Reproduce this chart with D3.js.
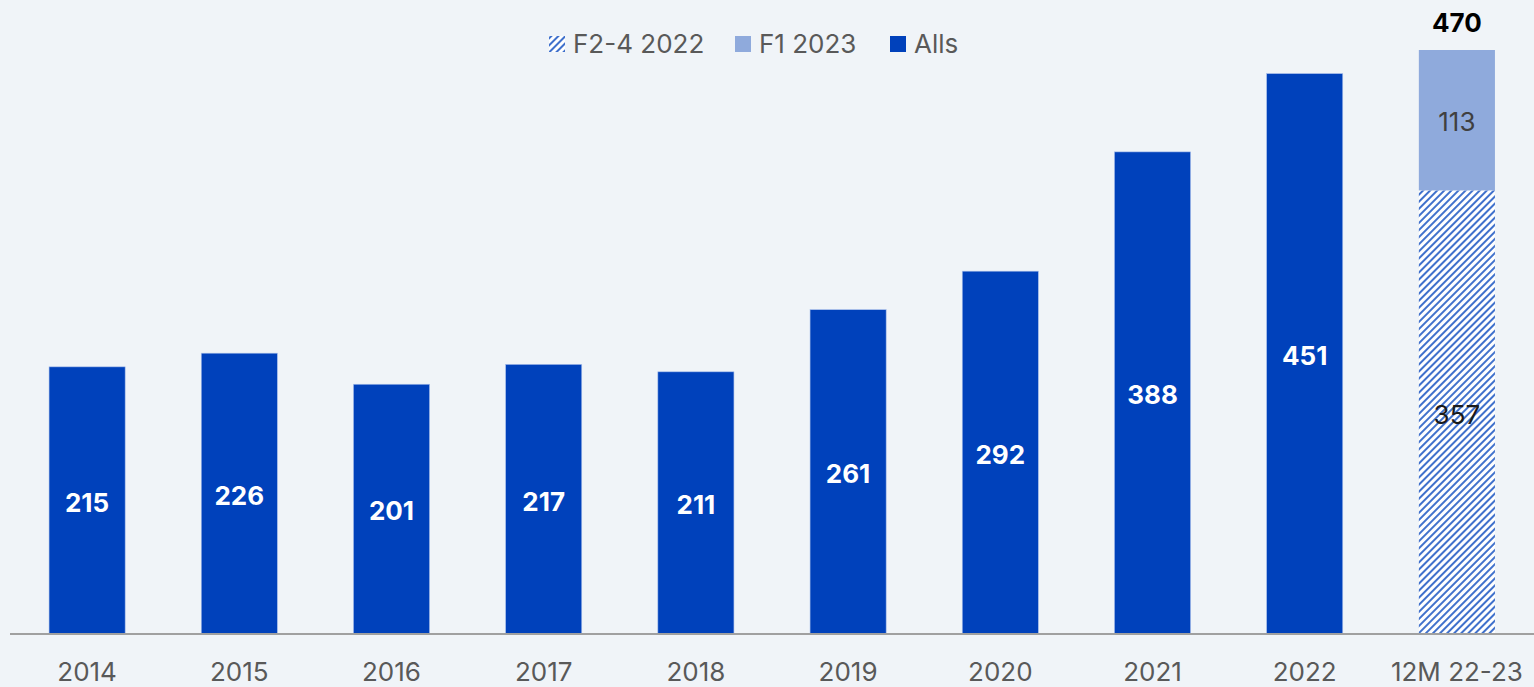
<!DOCTYPE html>
<html>
<head>
<meta charset="utf-8">
<script src="https://cdn.jsdelivr.net/npm/d3@7/dist/d3.min.js"></script>
<style>
  html, body { margin: 0; padding: 0; background: #f0f4f8; }
  svg { display: block; font-family: Inter, "Noto Sans", sans-serif; }
</style>
</head>
<body>
<svg id="chart"></svg>
<script>
// data
const categories = ["2014", "2015", "2016", "2017", "2018", "2019", "2020", "2021", "2022", "12M 22-23"];
const allsValues = [215, 226, 201, 217, 211, 261, 292, 388, 451, null];
const f24Values  = [null, null, null, null, null, null, null, null, null, 357];
const f1Values   = [null, null, null, null, null, null, null, null, null, 113];
const legendLabels = ["F2-4 2022", "F1 2023", "Alls"];

const width = 1534, height = 687;
const blue = "#0041bb", lightBlue = "#8faadc", grey = "#595959";

const svg = d3.select("#chart")
  .attr("width", width)
  .attr("height", height);

svg.append("rect")
  .attr("width", width)
  .attr("height", height)
  .attr("fill", "#f0f4f8");

// hatch pattern
const defs = svg.append("defs");
const hatch = defs.append("pattern")
  .attr("id", "hatch")
  .attr("patternUnits", "userSpaceOnUse")
  .attr("width", 5)
  .attr("height", 5)
  .attr("patternTransform", "rotate(45)");
hatch.append("rect").attr("width", 5).attr("height", 5).attr("fill", "#ffffff");
hatch.append("line")
  .attr("x1", 1).attr("y1", 0).attr("x2", 1).attr("y2", 5)
  .attr("stroke", blue)
  .attr("stroke-width", 1.5);

const x = d3.scaleBand()
  .domain(categories)
  .range([11, 1533])
  .paddingInner(0.5)
  .paddingOuter(0.25);

const y = d3.scaleLinear()
  .domain([0, 470])
  .range([634, 50]);

// stacked rows
const rows = categories.map((c, i) => ({
  cat: c,
  alls: allsValues[i],
  f24: f24Values[i],
  f1: f1Values[i]
}));

const g = svg.append("g");

// Alls bars
const allsRows = rows.filter(d => d.alls != null);
g.selectAll("rect.alls")
  .data(allsRows)
  .join("rect")
  .attr("class", "alls")
  .attr("x", d => x(d.cat))
  .attr("width", x.bandwidth())
  .attr("y", d => y(d.alls))
  .attr("height", d => y(0) - y(d.alls))
  .attr("fill", blue)
  .attr("stroke", "#a9bfeb")
  .attr("stroke-width", 0.6);

g.selectAll("text.alls")
  .data(allsRows)
  .join("text")
  .attr("class", "alls")
  .attr("x", d => x(d.cat) + x.bandwidth() / 2)
  .attr("y", d => (y(d.alls) + y(0)) / 2 + 2)
  .attr("dy", "0.36em")
  .attr("text-anchor", "middle")
  .attr("fill", "#ffffff")
  .attr("font-size", 26)
  .attr("font-weight", 700)
  .text(d => d.alls);

// 12M stacked bar
const stackRows = rows.filter(d => d.f24 != null);
g.selectAll("rect.f24")
  .data(stackRows)
  .join("rect")
  .attr("class", "f24")
  .attr("x", d => x(d.cat))
  .attr("width", x.bandwidth())
  .attr("y", d => y(d.f24))
  .attr("height", d => y(0) - y(d.f24))
  .attr("fill", "url(#hatch)");

g.selectAll("rect.f1")
  .data(stackRows)
  .join("rect")
  .attr("class", "f1")
  .attr("x", d => x(d.cat))
  .attr("width", x.bandwidth())
  .attr("y", d => y(d.f24 + d.f1))
  .attr("height", d => y(d.f24) - y(d.f24 + d.f1))
  .attr("fill", lightBlue);

g.selectAll("text.f24")
  .data(stackRows)
  .join("text")
  .attr("class", "f24")
  .attr("x", d => x(d.cat) + x.bandwidth() / 2)
  .attr("y", d => (y(d.f24) + y(0)) / 2 + 2)
  .attr("dy", "0.36em")
  .attr("text-anchor", "middle")
  .attr("fill", "#1a1a1a")
  .attr("font-size", 26)
  .text(d => d.f24);

g.selectAll("text.f1")
  .data(stackRows)
  .join("text")
  .attr("class", "f1")
  .attr("x", d => x(d.cat) + x.bandwidth() / 2)
  .attr("y", d => (y(d.f24 + d.f1) + y(d.f24)) / 2 + 1)
  .attr("dy", "0.36em")
  .attr("text-anchor", "middle")
  .attr("fill", "#404040")
  .attr("font-size", 26)
  .text(d => d.f1);

g.selectAll("text.total")
  .data(stackRows)
  .join("text")
  .attr("class", "total")
  .attr("x", d => x(d.cat) + x.bandwidth() / 2)
  .attr("y", d => y(d.f24 + d.f1) - 27)
  .attr("dy", "0.36em")
  .attr("text-anchor", "middle")
  .attr("fill", "#000000")
  .attr("font-size", 26)
  .attr("font-weight", 700)
  .text(d => d.f24 + d.f1);

// x axis
const xAxis = svg.append("g")
  .attr("transform", `translate(0,${y(0)})`)
  .call(d3.axisBottom(x).tickSize(0).tickPadding(29));
xAxis.select(".domain").remove();
xAxis.append("line")
  .attr("x1", 10).attr("x2", width)
  .attr("y1", 0).attr("y2", 0)
  .attr("stroke", "#a0a0a0")
  .attr("stroke-width", 2);
xAxis.selectAll("text")
  .attr("fill", grey)
  .attr("font-size", 26)
  .attr("font-family", "Inter, 'Noto Sans', sans-serif");

// legend
const legendFills = ["url(#hatch)", lightBlue, blue];
const legendX = [549, 735, 890];
const legend = svg.append("g").attr("transform", "translate(0,44)");
const items = legend.selectAll("g")
  .data(legendLabels)
  .join("g")
  .attr("transform", (d, i) => `translate(${legendX[i]},0)`);
items.append("rect")
  .attr("x", 0).attr("y", -8)
  .attr("width", 16).attr("height", 16)
  .attr("fill", (d, i) => legendFills[i]);
items.append("text")
  .attr("x", 24)
  .attr("dy", "0.36em")
  .attr("fill", grey)
  .attr("font-size", 26)
  .text(d => d);
</script>
</body>
</html>
